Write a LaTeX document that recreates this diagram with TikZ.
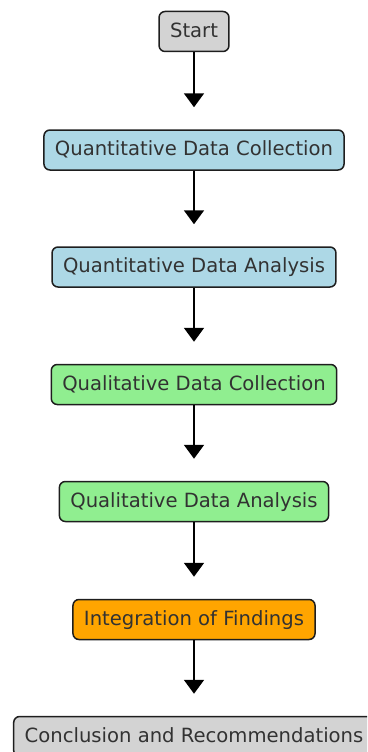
\documentclass[tikz,border=0pt]{standalone}
\usepackage{fontspec}
\setmainfont{DejaVu Sans}
\usetikzlibrary{arrows.meta}
\definecolor{txtgray}{RGB}{50,50,50}
\definecolor{edgegray}{RGB}{30,30,30}
\definecolor{boxgray}{RGB}{211,211,211}
\definecolor{boxblue}{RGB}{173,216,230}
\definecolor{boxgreen}{RGB}{144,238,144}
\definecolor{boxorange}{RGB}{255,165,0}
\tikzset{
  stepbox/.style={draw=edgegray, line width=1.5pt, rounded corners=6pt,
    font=\fontsize{19.6}{23}\selectfont, text=txtgray,
    text height=14.6pt, text depth=3pt, inner xsep=11pt,
    minimum height=40pt, align=center},
  flow/.style={-{Triangle[width=20pt,length=14pt]}, line width=2pt, black, shorten >=22pt}
}
\begin{document}
\begin{tikzpicture}[x=1pt,y=-1pt]
\clip (0,0) rectangle (367,752);
\useasboundingbox (0,0) rectangle (367,752);
\node[stepbox, fill=boxgray] (start) at (194,31.5) {Start};
\node[stepbox, fill=boxblue] (qdc) at (194,150) {Quantitative Data Collection};
\node[stepbox, fill=boxblue] (qda) at (194,267) {Quantitative Data Analysis};
\node[stepbox, fill=boxgreen] (ldc) at (194,384.5) {Qualitative Data Collection};
\node[stepbox, fill=boxgreen] (lda) at (194,501.5) {Qualitative Data Analysis};
\node[stepbox, fill=boxorange] (int) at (194,619.5) {Integration of Findings};
\node[stepbox, fill=boxgray] (conc) at (194,736.5) {Conclusion and Recommendations};
\draw[flow] (start.south) -- (qdc.north);
\draw[flow] (qdc.south) -- (qda.north);
\draw[flow] (qda.south) -- (ldc.north);
\draw[flow] (ldc.south) -- (lda.north);
\draw[flow] (lda.south) -- (int.north);
\draw[flow] (int.south) -- (conc.north);
\end{tikzpicture}
\end{document}
